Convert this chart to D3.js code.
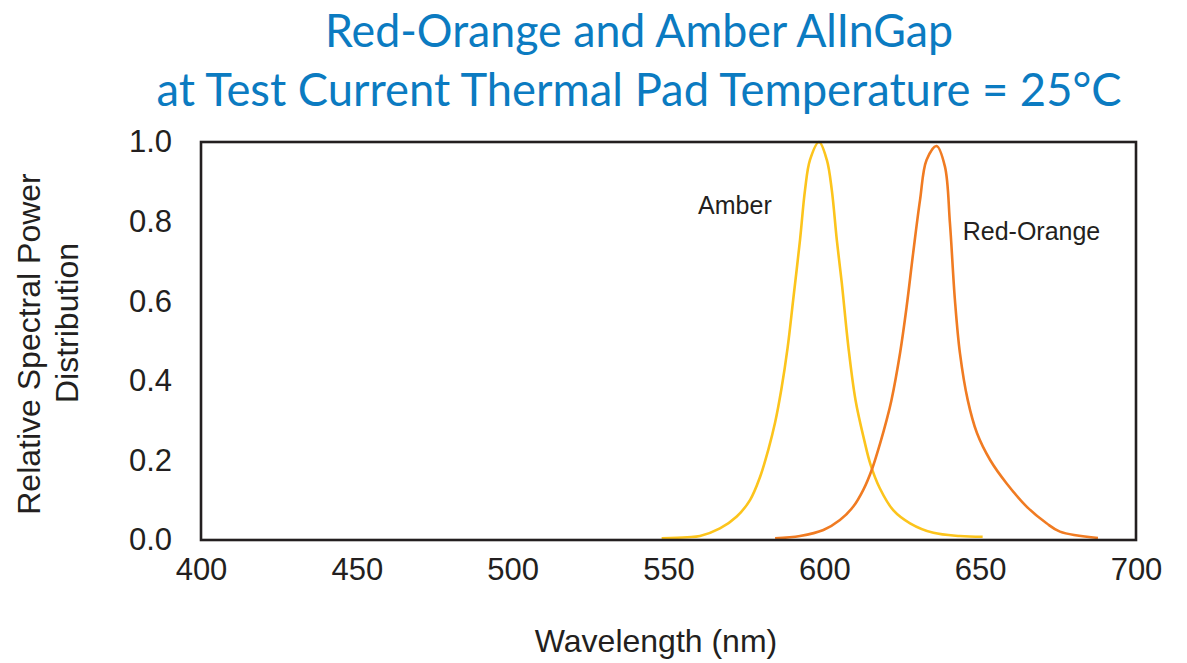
<!DOCTYPE html>
<html>
<head>
<meta charset="utf-8">
<script src="https://cdn.jsdelivr.net/npm/d3@7"></script>
<style>
  html, body { margin: 0; padding: 0; background: #ffffff; }
  svg { display: block; }
</style>
</head>
<body>
<svg id="chart" width="1187" height="663"></svg>
<script>
// ---- data ----
const titleLines = ["Red-Orange and Amber AlInGap", "at Test Current Thermal Pad Temperature = 25°C"];
const xTicks = [400, 450, 500, 550, 600, 650, 700];
const yTicks = [0.0, 0.2, 0.4, 0.6, 0.8, 1.0];
const xLabel = "Wavelength (nm)";
const yLabelLines = ["Relative Spectral Power", "Distribution"];

const amberWavelength = [547.8, 556, 560.1, 566.5, 571.9, 576.2, 579.4, 582.0, 584.2, 586.2, 588.2, 590.0, 592.2, 593.8, 595.4, 598.3, 600.8, 602.4, 604.0, 605.6, 607.7, 610.0, 612.8, 614.8, 617.8, 622.1, 627.5, 635.0, 643.5, 650.8];
const amberPower      = [0.004, 0.007, 0.010, 0.029, 0.059, 0.101, 0.159, 0.226, 0.295, 0.378, 0.482, 0.603, 0.754, 0.879, 0.955, 1.0, 0.955, 0.879, 0.754, 0.646, 0.486, 0.352, 0.251, 0.190, 0.130, 0.075, 0.042, 0.018, 0.010, 0.008];

const redWavelength = [584.2, 592.2, 599.7, 605.0, 609.3, 612.5, 615.2, 617.9, 620.0, 621.5, 624.3, 626.4, 628.5, 630.7, 632.8, 636.0, 638.7, 640.3, 641.9, 643.5, 646.0, 649.0, 653.2, 658.5, 664.9, 671.3, 675.6, 687.8];
const redPower      = [0.004, 0.010, 0.025, 0.050, 0.084, 0.126, 0.176, 0.243, 0.302, 0.350, 0.470, 0.586, 0.721, 0.854, 0.955, 0.990, 0.938, 0.796, 0.603, 0.470, 0.352, 0.268, 0.201, 0.142, 0.084, 0.042, 0.021, 0.005];

const seriesNames = ["Amber", "Red-Orange"];
const labelWavelength = [559.5, 644.4];
const labelPower = [0.82, 0.754];

// ---- layout ----
const svg = d3.select("#chart");
const plotL = 201, plotR = 1136, plotT = 142, plotB = 540;
const ink = "#231f20";
const colors = ["#fcc41c", "#f07b22"];
const axisFont = "'Liberation Sans', Arial, Helvetica, sans-serif";

const x = d3.scaleLinear().domain([400, 700]).range([plotL, plotR]);
const y = d3.scaleLinear().domain([0, 1]).range([plotB, plotT]);

// title
const titleWidths = [628, 965];
const titleBaselines = [47, 106];
svg.selectAll("text.title").data(titleLines).join("text")
  .attr("class", "title")
  .attr("x", 639)
  .attr("y", (d, i) => titleBaselines[i])
  .attr("text-anchor", "middle")
  .attr("font-family", "Lato, 'Open Sans', sans-serif")
  .attr("font-size", 46)
  .attr("fill", "#0b7bc1")
  .attr("textLength", (d, i) => titleWidths[i])
  .attr("lengthAdjust", "spacingAndGlyphs")
  .text(d => d);

// lines
const line = d3.line().x(d => x(d[0])).y(d => y(d[1])).curve(d3.curveCatmullRom.alpha(0.5));
const series = [
  d3.zip(amberWavelength, amberPower),
  d3.zip(redWavelength, redPower)
];
svg.selectAll("path.series").data(series).join("path")
  .attr("class", "series")
  .attr("d", line)
  .attr("fill", "none")
  .attr("stroke", (d, i) => colors[i])
  .attr("stroke-width", 2.6)
  .attr("stroke-linejoin", "round");

// frame
svg.append("rect")
  .attr("x", plotL).attr("y", plotT)
  .attr("width", plotR - plotL).attr("height", plotB - plotT)
  .attr("fill", "none")
  .attr("stroke", ink)
  .attr("stroke-width", 2.6);

// axes
const xAxis = svg.append("g")
  .attr("transform", `translate(0,${plotB})`)
  .call(d3.axisBottom(x).tickValues(xTicks).tickSize(0).tickPadding(18).tickFormat(d3.format("d")));
const yAxis = svg.append("g")
  .attr("transform", `translate(${plotL},0)`)
  .call(d3.axisLeft(y).tickValues(yTicks).tickSize(0).tickPadding(29).tickFormat(d3.format(".1f")));
[xAxis, yAxis].forEach(g => {
  g.select(".domain").remove();
  g.selectAll("text")
    .attr("font-family", axisFont)
    .attr("font-size", 31)
    .attr("fill", ink);
});

// axis titles
svg.append("text")
  .attr("x", 656).attr("y", 652)
  .attr("text-anchor", "middle")
  .attr("font-family", axisFont)
  .attr("font-size", 32)
  .attr("fill", ink)
  .text(xLabel);

const yLabelX = [40, 78];
const yLabelCenter = [344, 323];
svg.selectAll("text.ylab").data(yLabelLines).join("text")
  .attr("class", "ylab")
  .attr("transform", (d, i) => `translate(${yLabelX[i]},${yLabelCenter[i]}) rotate(-90)`)
  .attr("text-anchor", "middle")
  .attr("font-family", axisFont)
  .attr("font-size", 32)
  .attr("fill", ink)
  .text(d => d);

// series labels
svg.selectAll("text.slab").data(seriesNames).join("text")
  .attr("class", "slab")
  .attr("x", (d, i) => x(labelWavelength[i]))
  .attr("y", (d, i) => y(labelPower[i]))
  .attr("font-family", axisFont)
  .attr("font-size", 25)
  .attr("fill", ink)
  .text(d => d);
</script>
</body>
</html>
